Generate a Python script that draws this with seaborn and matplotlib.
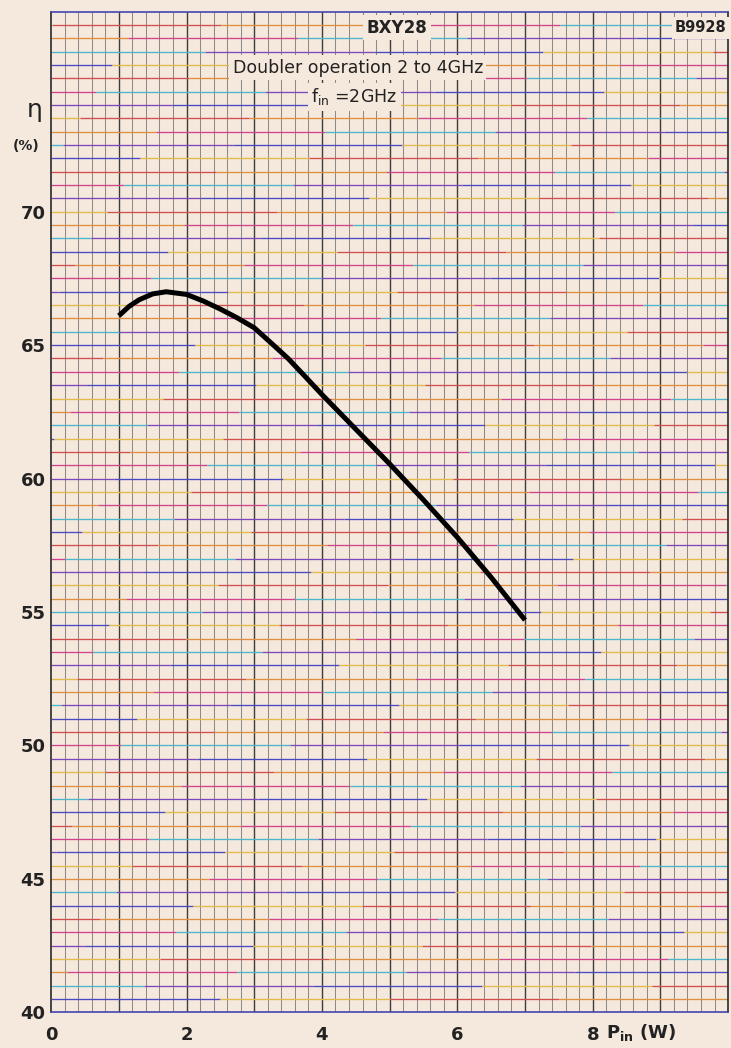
import numpy as np
import pandas as pd
import matplotlib
matplotlib.use('Agg')
import matplotlib.pyplot as plt
import seaborn as sns

# values
p_in = [1.0, 1.15, 1.3, 1.5, 1.7, 2.0, 2.25, 2.5, 2.75, 3.0, 3.25, 3.5, 3.75,
        4.0, 4.5, 5.0, 5.5, 6.0, 6.5, 7.0]
eta = [66.1, 66.45, 66.7, 66.92, 67.0, 66.9, 66.65, 66.35, 66.02, 65.65, 65.08, 64.5, 63.83,
       63.15, 61.85, 60.55, 59.2, 57.8, 56.3, 54.7]
x_ticks = [0, 2, 4, 6, 8]
y_ticks = [40, 45, 50, 55, 60, 65, 70]

paper = '#f5e8dc'
ink = '#222222'
sns.set_theme(style='white')
plt.rcParams['font.family'] = ['DejaVu Sans']
plt.rcParams['figure.facecolor'] = paper
plt.rcParams['axes.facecolor'] = paper

df = pd.DataFrame({'P_in': p_in, 'eta': eta})

fig = plt.figure(figsize=(7.31, 10.48), dpi=100)
ax = fig.add_axes([0.07, 0.034, 0.926, 0.955])
ax.set_xlim(0, 10)
ax.set_ylim(40, 77.5)

# vertical grid: thin every 0.2, darker every 1
for xv in np.arange(0.2, 10, 0.2):
    major = abs(xv - round(xv)) < 1e-6
    ax.axvline(xv, color='#3c3c3c' if major else '#908a86',
               lw=1.0 if major else 0.75, zorder=1)

# horizontal grid: printed in shifting colours
cols = ['#4a4ac4', '#d2448e', '#e2bb4a', '#4bb6cc', '#d25050', '#7d48bc', '#dd9040']
for i, yv in enumerate(np.arange(40.5, 77.5, 0.5)):
    off = (i * 1.37) % 2.5
    breaks = [0] + [off + k * 2.5 for k in range(4) if 0 < off + k * 2.5 < 10] + [10]
    for j in range(len(breaks) - 1):
        c = cols[(i * 3 + j * 2) % len(cols)]
        ax.hlines(yv, breaks[j], breaks[j + 1], color=c, lw=0.95, zorder=1)

sns.lineplot(data=df, x='P_in', y='eta', ax=ax, color='black', lw=3.6,
             solid_capstyle='butt', solid_joinstyle='round', zorder=5)

for s in ax.spines.values():
    s.set_color('#2a2a2a')
    s.set_linewidth(1.2)
ax.spines['top'].set_color('#4444b0')
ax.spines['bottom'].set_color('#4444b0')

ax.set_xticks(x_ticks)
ax.set_xticklabels([str(v) for v in x_ticks])
ax.set_yticks(y_ticks)
ax.set_yticklabels([str(v) for v in y_ticks])
ax.tick_params(axis='both', length=0, labelsize=13, colors=ink)
ax.tick_params(axis='x', pad=10)
ax.tick_params(axis='y', pad=4)
for lab in ax.get_xticklabels() + ax.get_yticklabels():
    lab.set_fontweight('bold')
ax.set_xlabel('')
ax.set_ylabel('')

ax.text(8.2, -0.02, r'P$_\mathregular{in}$ (W)', transform=ax.get_xaxis_transform(),
        ha='left', va='center', fontsize=13, fontweight='bold', color=ink)
ax.text(-0.24, 73.8, 'η', fontsize=18, ha='center', va='center', color=ink)
ax.text(-0.37, 72.45, '(%)', fontsize=10, ha='center', va='center', fontweight='bold',
        color=ink)

box = dict(facecolor=paper, edgecolor='none', pad=2.5)
ax.text(5.11, 76.9, 'BXY28', fontsize=12, fontweight='bold', ha='center', va='center',
        color=ink, bbox=box, zorder=6)
ax.text(9.6, 76.9, 'B9928', fontsize=10.5, fontweight='bold', ha='center', va='center',
        color=ink, bbox=box, zorder=6)
ax.text(4.53, 75.4, 'Doubler operation 2 to 4GHz', fontsize=12.5, ha='center',
        va='center', color=ink, bbox=box, zorder=6)
ax.text(4.48, 74.3, r'f$_\mathregular{in}$ =2GHz', fontsize=12.5, ha='center', va='center',
        color=ink, bbox=box, zorder=6)

fig.savefig('out.png', dpi=100, facecolor=paper)
